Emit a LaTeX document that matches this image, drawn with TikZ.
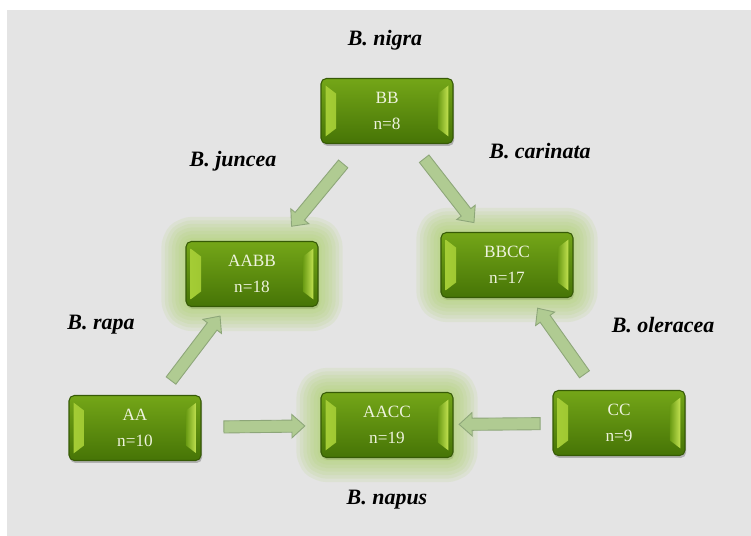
\documentclass[tikz,border=0pt]{standalone}
\usepackage{fontspec}
\setmainfont{Liberation Serif}
\usetikzlibrary{shapes.arrows,calc,positioning}
\definecolor{bggray}{HTML}{E4E4E4}
\definecolor{boxtop}{HTML}{74A618}
\definecolor{boxbot}{HTML}{467406}
\definecolor{boxedge}{HTML}{365A06}
\definecolor{bevleft}{HTML}{A6CE36}
\definecolor{bevright}{HTML}{C4E352}
\definecolor{boxtext}{HTML}{EEF3DE}
\definecolor{glowc}{HTML}{A9D060}
\definecolor{arrowfill}{HTML}{B0CB92}
\definecolor{arrowedge}{HTML}{8DA679}

\begin{document}
\begin{tikzpicture}[
  x=0.02cm,
  y=-0.02cm,
  genome/.style={rounded corners=3pt, minimum width=2.64cm, minimum height=1.3cm,
    draw=boxedge, line width=0.6pt, top color=boxtop, bottom color=boxbot,
    text=boxtext, align=center, font=\fontsize{9.8}{14.6}\selectfont,
    preaction={fill=black, opacity=0.22, transform canvas={xshift=0.6pt, yshift=-1.4pt}},
    path picture={
      \shade[sharp corners, left color=bevleft, right color=boxtop!80!boxbot]
        ($(path picture bounding box.north west)+(0.09cm,-0.14cm)$) --
        ($(path picture bounding box.north west)+(0.3cm,-0.3cm)$) --
        ($(path picture bounding box.south west)+(0.3cm,0.3cm)$) --
        ($(path picture bounding box.south west)+(0.09cm,0.14cm)$) -- cycle;
      \shade[sharp corners, left color=boxtop!80!boxbot, right color=bevright]
        ($(path picture bounding box.north east)+(-0.09cm,-0.14cm)$) --
        ($(path picture bounding box.north east)+(-0.3cm,-0.3cm)$) --
        ($(path picture bounding box.south east)+(-0.3cm,0.3cm)$) --
        ($(path picture bounding box.south east)+(-0.09cm,0.14cm)$) -- cycle;
    }},
  hybrid/.style={genome,
    preaction={draw=glowc, line width=28pt, opacity=0.12, line join=round},
    preaction={draw=glowc, line width=24pt, opacity=0.12, line join=round},
    preaction={draw=glowc, line width=20pt, opacity=0.12, line join=round},
    preaction={draw=glowc, line width=16pt, opacity=0.12, line join=round},
    preaction={draw=glowc, line width=12pt, opacity=0.12, line join=round},
    preaction={draw=glowc, line width=8pt, opacity=0.12, line join=round},
    preaction={draw=glowc, line width=4pt, opacity=0.12, line join=round}},
  fatarrow/.style={single arrow, draw=arrowedge, fill=arrowfill, line width=0.5pt,
    minimum height=1.62cm, inner xsep=0pt, inner ysep=3.2pt,
    single arrow head extend=3.2pt, single arrow tip angle=84,
    sloped, allow upside down, pos=0.5},
  species/.style={font=\fontsize{12.5}{14}\selectfont\bfseries\itshape}
]
\useasboundingbox (0,0) rectangle (751,536);
\fill[white] (0,0) rectangle (751,536);
\fill[bggray] (7,10) rectangle (751,536);

% diploid genomes
\node[genome] (bb) at (387,111) {BB\\n=8};
\node[genome] (aa) at (135,428) {AA\\n=10};
\node[genome] (cc) at (619,423) {CC\\n=9};

% amphidiploids
\node[hybrid] (aabb) at (252,274) {AABB\\n=18};
\node[hybrid] (bbcc) at (507,265) {BBCC\\n=17};
\node[hybrid] (aacc) at (387,425) {AACC\\n=19};

\path (bb) -- node[fatarrow] {} (aabb);
\path (bb) -- node[fatarrow] {} (bbcc);
\path (aa) -- node[fatarrow] {} (aabb);
\path (aa) -- node[fatarrow] {} (aacc);
\path (cc) -- node[fatarrow] {} (aacc);
\path (cc) -- node[fatarrow] {} (bbcc);

\node[species] (nigra) at (385,40) {B. nigra};
\node[species] (juncea) at (233,161) {B. juncea};
\node[species] (carinata) at (540,151) {B. carinata};
\node[species] (rapa) at (101,325) {B. rapa};
\node[species] (oleracea) at (663,325) {B. oleracea};
\node[species] (napus) at (387,500) {B. napus};
\end{tikzpicture}
\end{document}
